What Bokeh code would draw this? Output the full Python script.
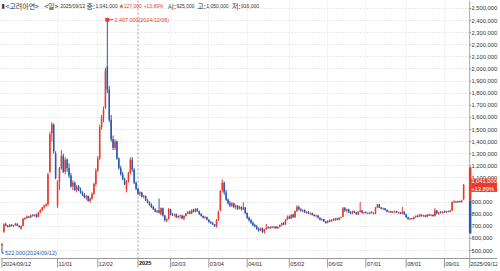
from bokeh.plotting import figure
from bokeh.models import (Range1d, NumeralTickFormatter, FixedTicker, Label,
                          ColumnDataSource, BoxAnnotation)
from bokeh.embed import file_html
from bokeh.resources import INLINE

# ---- data (prices in thousands of KRW), one candle per trading day ----
opens_k = [540, 655, 715, 705, 695, 712, 702, 708, 722, 705,
           678, 702, 760, 768, 782, 772, 790, 785, 796, 778,
           815, 835, 855, 870, 880, 1150, 1470, 1540, 1300, 870,
           1070, 1180, 1280, 1150, 1250, 1180, 1120, 1030, 1060, 1000,
           1030, 1000, 980, 960, 940, 950, 910, 930, 970, 1050,
           1160, 1260, 1520, 1600, 1680, 2020, 1830, 1580, 1420, 1350,
           1400, 1260, 1180, 1130, 1090, 1000, 1070, 1140, 1250, 1170,
           1060, 1010, 970, 980, 945, 950, 915, 895, 880, 860,
           840, 820, 830, 800, 850, 790, 750, 760, 840, 800,
           795, 800, 775, 785, 790, 765, 785, 805, 820, 805,
           835, 820, 845, 825, 800, 785, 770, 775, 755, 735,
           725, 715, 700, 750, 830, 1000, 1060, 980, 920, 890,
           870, 890, 860, 870, 845, 860, 840, 855, 810, 770,
           750, 730, 710, 700, 680, 665, 685, 655, 675, 690,
           685, 695, 690, 698, 685, 695, 710, 725, 715, 755,
           780, 765, 795, 775, 825, 860, 840, 830, 835, 815,
           820, 805, 810, 795, 785, 790, 770, 755, 760, 740,
           728, 745, 740, 755, 750, 765, 755, 770, 780, 850,
           830, 840, 815, 805, 825, 815, 800, 820, 830, 810,
           815, 810, 805, 815, 810, 805, 855, 880, 855, 845,
           850, 835, 820, 825, 815, 820, 825, 812, 815, 805,
           820, 800, 775, 760, 765, 760, 775, 785, 780, 795,
           785, 790, 780, 795, 790, 795, 785, 830, 805, 815,
           810, 820, 815, 825, 820, 830, 900, 905, 898, 908,
           900, 925]
highs_k = [560, 725, 730, 712, 720, 716, 712, 728, 726, 708,
           706, 770, 775, 790, 786, 795, 800, 802, 805, 820,
           840, 860, 880, 890, 1140, 1480, 1560, 1550, 1320, 1080,
           1190, 1330, 1300, 1270, 1260, 1220, 1140, 1080, 1070, 1040,
           1040, 1020, 990, 975, 960, 955, 940, 980, 1060, 1180,
           1280, 1540, 1620, 1690, 2010, 2407, 1860, 1620, 1450, 1420,
           1410, 1270, 1200, 1150, 1100, 1080, 1150, 1270, 1270, 1180,
           1070, 1020, 990, 985, 960, 955, 925, 905, 890, 870,
           850, 835, 930, 855, 855, 795, 765, 850, 845, 810,
           805, 806, 790, 795, 795, 790, 810, 825, 830, 840,
           845, 850, 850, 830, 810, 790, 785, 780, 760, 745,
           735, 720, 760, 830, 1000, 1087, 1070, 1000, 930, 910,
           900, 895, 880, 875, 870, 865, 900, 860, 815, 780,
           760, 740, 720, 710, 690, 690, 690, 680, 720, 700,
           700, 705, 700, 702, 700, 715, 730, 735, 760, 790,
           790, 800, 805, 830, 875, 870, 850, 840, 840, 825,
           825, 815, 812, 800, 795, 792, 775, 765, 762, 745,
           750, 755, 760, 765, 770, 770, 775, 780, 860, 860,
           845, 845, 825, 830, 830, 820, 825, 900, 835, 820,
           825, 815, 820, 825, 815, 860, 885, 885, 860, 855,
           852, 840, 830, 828, 825, 830, 828, 820, 818, 860,
           825, 805, 780, 770, 768, 780, 790, 795, 800, 800,
           795, 795, 800, 805, 800, 798, 850, 835, 820, 825,
           825, 830, 828, 830, 835, 905, 915, 910, 912, 912,
           920, 1050]
lows_k = [522, 645, 700, 690, 692, 698, 695, 705, 700, 690,
          672, 698, 752, 762, 768, 768, 780, 780, 770, 775,
          810, 825, 845, 860, 870, 1140, 1400, 1300, 1090, 850,
          1000, 1170, 1140, 1130, 1150, 1100, 1020, 1000, 990, 980,
          990, 970, 950, 930, 920, 905, 895, 920, 960, 1030,
          1150, 1250, 1500, 1560, 1670, 1800, 1560, 1400, 1330, 1330,
          1250, 1170, 1120, 1080, 1040, 980, 1060, 1130, 1150, 1050,
          1000, 960, 950, 940, 930, 910, 890, 870, 850, 835,
          815, 810, 805, 790, 780, 740, 735, 755, 790, 785,
          780, 770, 765, 770, 760, 750, 780, 800, 800, 800,
          815, 815, 820, 795, 780, 765, 760, 750, 730, 720,
          710, 695, 690, 745, 825, 980, 960, 910, 880, 860,
          860, 850, 840, 835, 840, 830, 835, 800, 760, 740,
          720, 700, 690, 670, 655, 660, 645, 640, 670, 680,
          678, 685, 680, 680, 678, 690, 700, 710, 712, 750,
          760, 760, 770, 770, 820, 830, 820, 815, 810, 805,
          800, 795, 790, 780, 775, 765, 750, 745, 735, 722,
          725, 735, 738, 745, 745, 750, 750, 765, 775, 820,
          815, 810, 800, 800, 810, 795, 795, 815, 805, 800,
          805, 800, 800, 805, 800, 800, 850, 850, 840, 835,
          830, 815, 812, 810, 808, 812, 810, 805, 800, 800,
          795, 770, 755, 748, 755, 755, 770, 775, 775, 780,
          778, 775, 775, 785, 782, 780, 780, 800, 795, 805,
          805, 812, 810, 815, 815, 825, 890, 893, 892, 895,
          895, 916]
closes_k = [556, 715, 705, 695, 712, 702, 708, 722, 705, 695,
            702, 760, 768, 782, 772, 790, 785, 796, 778, 815,
            835, 855, 870, 880, 1130, 1460, 1543, 1320, 1100, 1070,
            1180, 1280, 1150, 1250, 1180, 1120, 1030, 1060, 1000, 1030,
            1000, 980, 960, 940, 950, 910, 930, 970, 1050, 1160,
            1260, 1520, 1600, 1670, 1990, 1830, 1580, 1420, 1350, 1400,
            1260, 1180, 1130, 1090, 1050, 1070, 1140, 1250, 1170, 1060,
            1010, 970, 980, 945, 950, 915, 895, 880, 860, 840,
            820, 830, 815, 850, 790, 750, 760, 840, 800, 795,
            800, 775, 785, 790, 765, 785, 805, 820, 805, 835,
            820, 845, 825, 800, 785, 770, 775, 755, 735, 725,
            715, 700, 750, 820, 990, 1060, 980, 920, 890, 870,
            890, 860, 870, 845, 860, 840, 855, 810, 770, 750,
            730, 710, 700, 680, 665, 685, 655, 675, 690, 685,
            695, 690, 698, 685, 695, 710, 725, 715, 755, 780,
            765, 795, 775, 825, 860, 840, 830, 835, 815, 820,
            805, 810, 795, 785, 790, 770, 755, 760, 740, 728,
            745, 740, 755, 750, 765, 755, 770, 775, 850, 830,
            840, 815, 805, 825, 815, 800, 820, 830, 810, 815,
            810, 805, 815, 810, 805, 855, 880, 855, 845, 850,
            835, 820, 825, 815, 820, 825, 812, 815, 805, 820,
            800, 775, 760, 765, 760, 775, 785, 780, 795, 785,
            790, 780, 795, 790, 795, 785, 830, 805, 815, 810,
            820, 815, 825, 820, 830, 900, 905, 898, 908, 900,
            914, 1041]

tick_idx = [0, 29, 50, 71, 88, 108, 128, 150, 170, 190, 211, 231]
tick_text = ["2024/09/12", "11/01", "12/02", "2025", "02/03", "03/04",
             "04/01", "05/02", "06/02", "07/01", "08/01", "09/01"]
end_label = "2025/09/12"
y_ticks = [500000, 600000, 700000, 800000, 900000, 1000000, 1100000, 1200000,
           1300000, 1400000, 1500000, 1600000, 1700000, 1800000, 1900000,
           2000000, 2100000, 2200000, 2300000, 2400000, 2500000]

RED = "#e8392b"
BLUE = "#2a57b3"
TXT = "#333333"
NUMFONT = "Liberation Sans"
KFONT = "Noto Sans CJK KR"
SYMFONT = "DejaVu Sans"

# plot geometry: price area is 472 x 258 px, axis strips fill the rest
PXX = 1.927                      # px per trading day
X0 = -0.78                       # left edge (data)
X1 = X0 + 472 / PXX              # right edge of price area / axis line
XR = X0 + 500 / PXX              # canvas right edge
Y0, Y1 = 434000, 2566000         # bottom / top of price area
UPP = (Y1 - Y0) / 258            # won per px
YB = Y0 - 13 * UPP               # canvas bottom


def xpx(px):
    return X0 + px / PXX


def ypx(py):
    return Y1 - py * UPP


o = [v * 1000 for v in opens_k]
h = [v * 1000 for v in highs_k]
l = [v * 1000 for v in lows_k]
c = [v * 1000 for v in closes_k]
x = list(range(len(c)))
cols = [RED if cc >= oo else BLUE for oo, cc in zip(o, c)]
src = ColumnDataSource(dict(x=x, h=h, l=l, top=[max(a, b) for a, b in zip(o, c)],
                            bot=[min(a, b) for a, b in zip(o, c)], col=cols))

p = figure(width=500, height=271, output_backend="svg", toolbar_location=None,
           x_range=Range1d(X0, XR), y_range=Range1d(YB, Y1),
           y_axis_location="right", min_border_left=0, min_border_top=0,
           min_border_right=0, min_border_bottom=0)
p.outline_line_color = None
p.background_fill_color = "white"
p.border_fill_color = "white"
p.xaxis.visible = False

# right price axis, labels drawn back into the strip right of the price area
p.yaxis.ticker = FixedTicker(ticks=y_ticks)
p.yaxis.formatter = NumeralTickFormatter(format="0,0")
p.yaxis.major_label_text_font = NUMFONT
p.yaxis.major_label_text_font_size = "5.8px"
p.yaxis.major_label_text_color = TXT
p.yaxis.major_tick_out = 0
p.yaxis.major_tick_in = 0
p.yaxis.minor_tick_out = 0
p.yaxis.minor_tick_in = 0
p.yaxis.axis_line_color = None
p.yaxis.major_label_standoff = -26

# grids
p.ygrid.ticker = FixedTicker(ticks=y_ticks)
p.ygrid.grid_line_color = "#d6d6d6"
p.ygrid.grid_line_dash = "1 2"
p.xgrid.ticker = FixedTicker(ticks=[t for t, s in zip(tick_idx[1:], tick_text[1:]) if s != "2025"])
p.xgrid.grid_line_color = "#e0e0e0"
p.xgrid.grid_line_dash = "1 2"
# keep grid inside the price area
p.add_layout(BoxAnnotation(left=X1, fill_color="white", fill_alpha=1, line_color=None, level="underlay"))
p.add_layout(BoxAnnotation(top=Y0, fill_color="white", fill_alpha=1, line_color=None, level="underlay"))

year_i = tick_idx[tick_text.index("2025")]
p.segment(x0=[year_i], y0=[Y0], x1=[year_i], y1=[Y1], line_color="#9a9a9a",
          line_dash="2 2", line_width=1)

# axis lines and tick marks
p.segment(x0=[X0], y0=[Y0], x1=[XR], y1=[Y0], line_color="#999999", line_width=1)
p.segment(x0=[X1], y0=[Y0], x1=[X1], y1=[Y1], line_color="#aaaaaa", line_width=1)
xt = tick_idx + [X1]
p.segment(x0=xt, y0=[Y0] * len(xt), x1=xt, y1=[Y0 - 9 * UPP] * len(xt),
          line_color="#999999", line_width=1)
p.segment(x0=[X1] * len(y_ticks), y0=y_ticks, x1=[X1 + 1.5 / PXX] * len(y_ticks), y1=y_ticks,
          line_color="#888888", line_width=1)

# candles
p.segment(x0="x", y0="l", x1="x", y1="h", line_color="col", line_width=1, source=src)
p.vbar(x="x", width=0.8, top="top", bottom="bot", fill_color="col", line_color=None, source=src)

# price-limit bar on the axis line
prev = c[-2]
p.quad(left=[X1 - 0.4], right=[X1 + 0.9], bottom=[prev], top=[prev * 1.3], fill_color=RED, line_color=None)
p.quad(left=[X1 - 0.4], right=[X1 + 0.9], bottom=[prev * 0.7], top=[prev], fill_color=BLUE, line_color=None)

# peak annotation
pk = h.index(max(h))
p.segment(x0=[pk], y0=[h[pk]], x1=[pk + 3.2], y1=[h[pk]], line_color=RED, line_width=1)
p.scatter([pk], [h[pk]], marker="square", size=3, color=RED)
p.add_layout(Label(x=pk + 3.2, y=h[pk], text="2,407,000(2024/12/06)", text_font=NUMFONT,
                   text_font_size="5.4px", text_color=RED, text_baseline="middle", x_offset=1))

# low annotation
lo = l.index(min(l))
ylow = ypx(252.5)
p.segment(x0=[lo], y0=[min(l)], x1=[lo], y1=[ylow], line_color=BLUE, line_width=1)
p.segment(x0=[lo], y0=[ylow], x1=[lo + 1.0], y1=[ylow], line_color=BLUE, line_width=1)
p.add_layout(Label(x=lo + 1.0, y=ylow, text="522,000(2024/09/12)", text_font=NUMFONT,
                   text_font_size="5.6px", text_color=BLUE, text_baseline="middle", x_offset=1))

# date labels, left aligned at their tick
for t, s in zip(tick_idx, tick_text):
    p.add_layout(Label(x=t, y=ypx(260.5), text=s, text_font=NUMFONT, text_font_size="5.6px",
                       text_color="#111111" if s == "2025" else TXT,
                       text_font_style="bold" if s == "2025" else "normal",
                       text_align="left", text_baseline="top", x_offset=1))
p.add_layout(Label(x=X1, y=ypx(260.5), text=end_label, text_font=NUMFONT, text_font_size="5.6px",
                   text_color=TXT, text_align="left", text_baseline="top", x_offset=0.5))

# last price box
p.add_layout(Label(x=X1, y=c[-1], text="1,041,000\n+13.89%", text_font=NUMFONT,
                   text_font_size="5.8px", text_color="white", text_align="left",
                   text_baseline="middle", x_offset=1.5, text_line_height=1.2,
                   background_fill_color=RED, background_fill_alpha=1.0))

# header line
hdr = [(1, "▮", TXT, SYMFONT, "6px"),
       (5, "<고려아연>", TXT, KFONT, "7px"),
       (44, "<일>", TXT, KFONT, "7px"),
       (60, "2025/09/12", TXT, NUMFONT, "5px"),
       (86.5, "종:", TXT, KFONT, "7px"),
       (95.5, "1,041,000", TXT, NUMFONT, "5px"),
       (120, "▲", RED, SYMFONT, "4.5px"),
       (124, "127,000", RED, NUMFONT, "5px"),
       (144, "+13.89%", RED, NUMFONT, "5px"),
       (168, "시:", TXT, KFONT, "7px"),
       (177, "925,000", TXT, NUMFONT, "5px"),
       (198, "고:", TXT, KFONT, "7px"),
       (207, "1,050,000", TXT, NUMFONT, "5px"),
       (233, "저:", TXT, KFONT, "7px"),
       (242, "916,000", TXT, NUMFONT, "5px")]
for xp, s, colr, fnt, fs in hdr:
    p.add_layout(Label(x=xpx(xp), y=ypx(5), text=s, text_font=fnt,
                       text_font_size=fs, text_color=colr, text_align="left",
                       text_baseline="middle"))

open("out.html", "w").write(file_html(p, INLINE))
